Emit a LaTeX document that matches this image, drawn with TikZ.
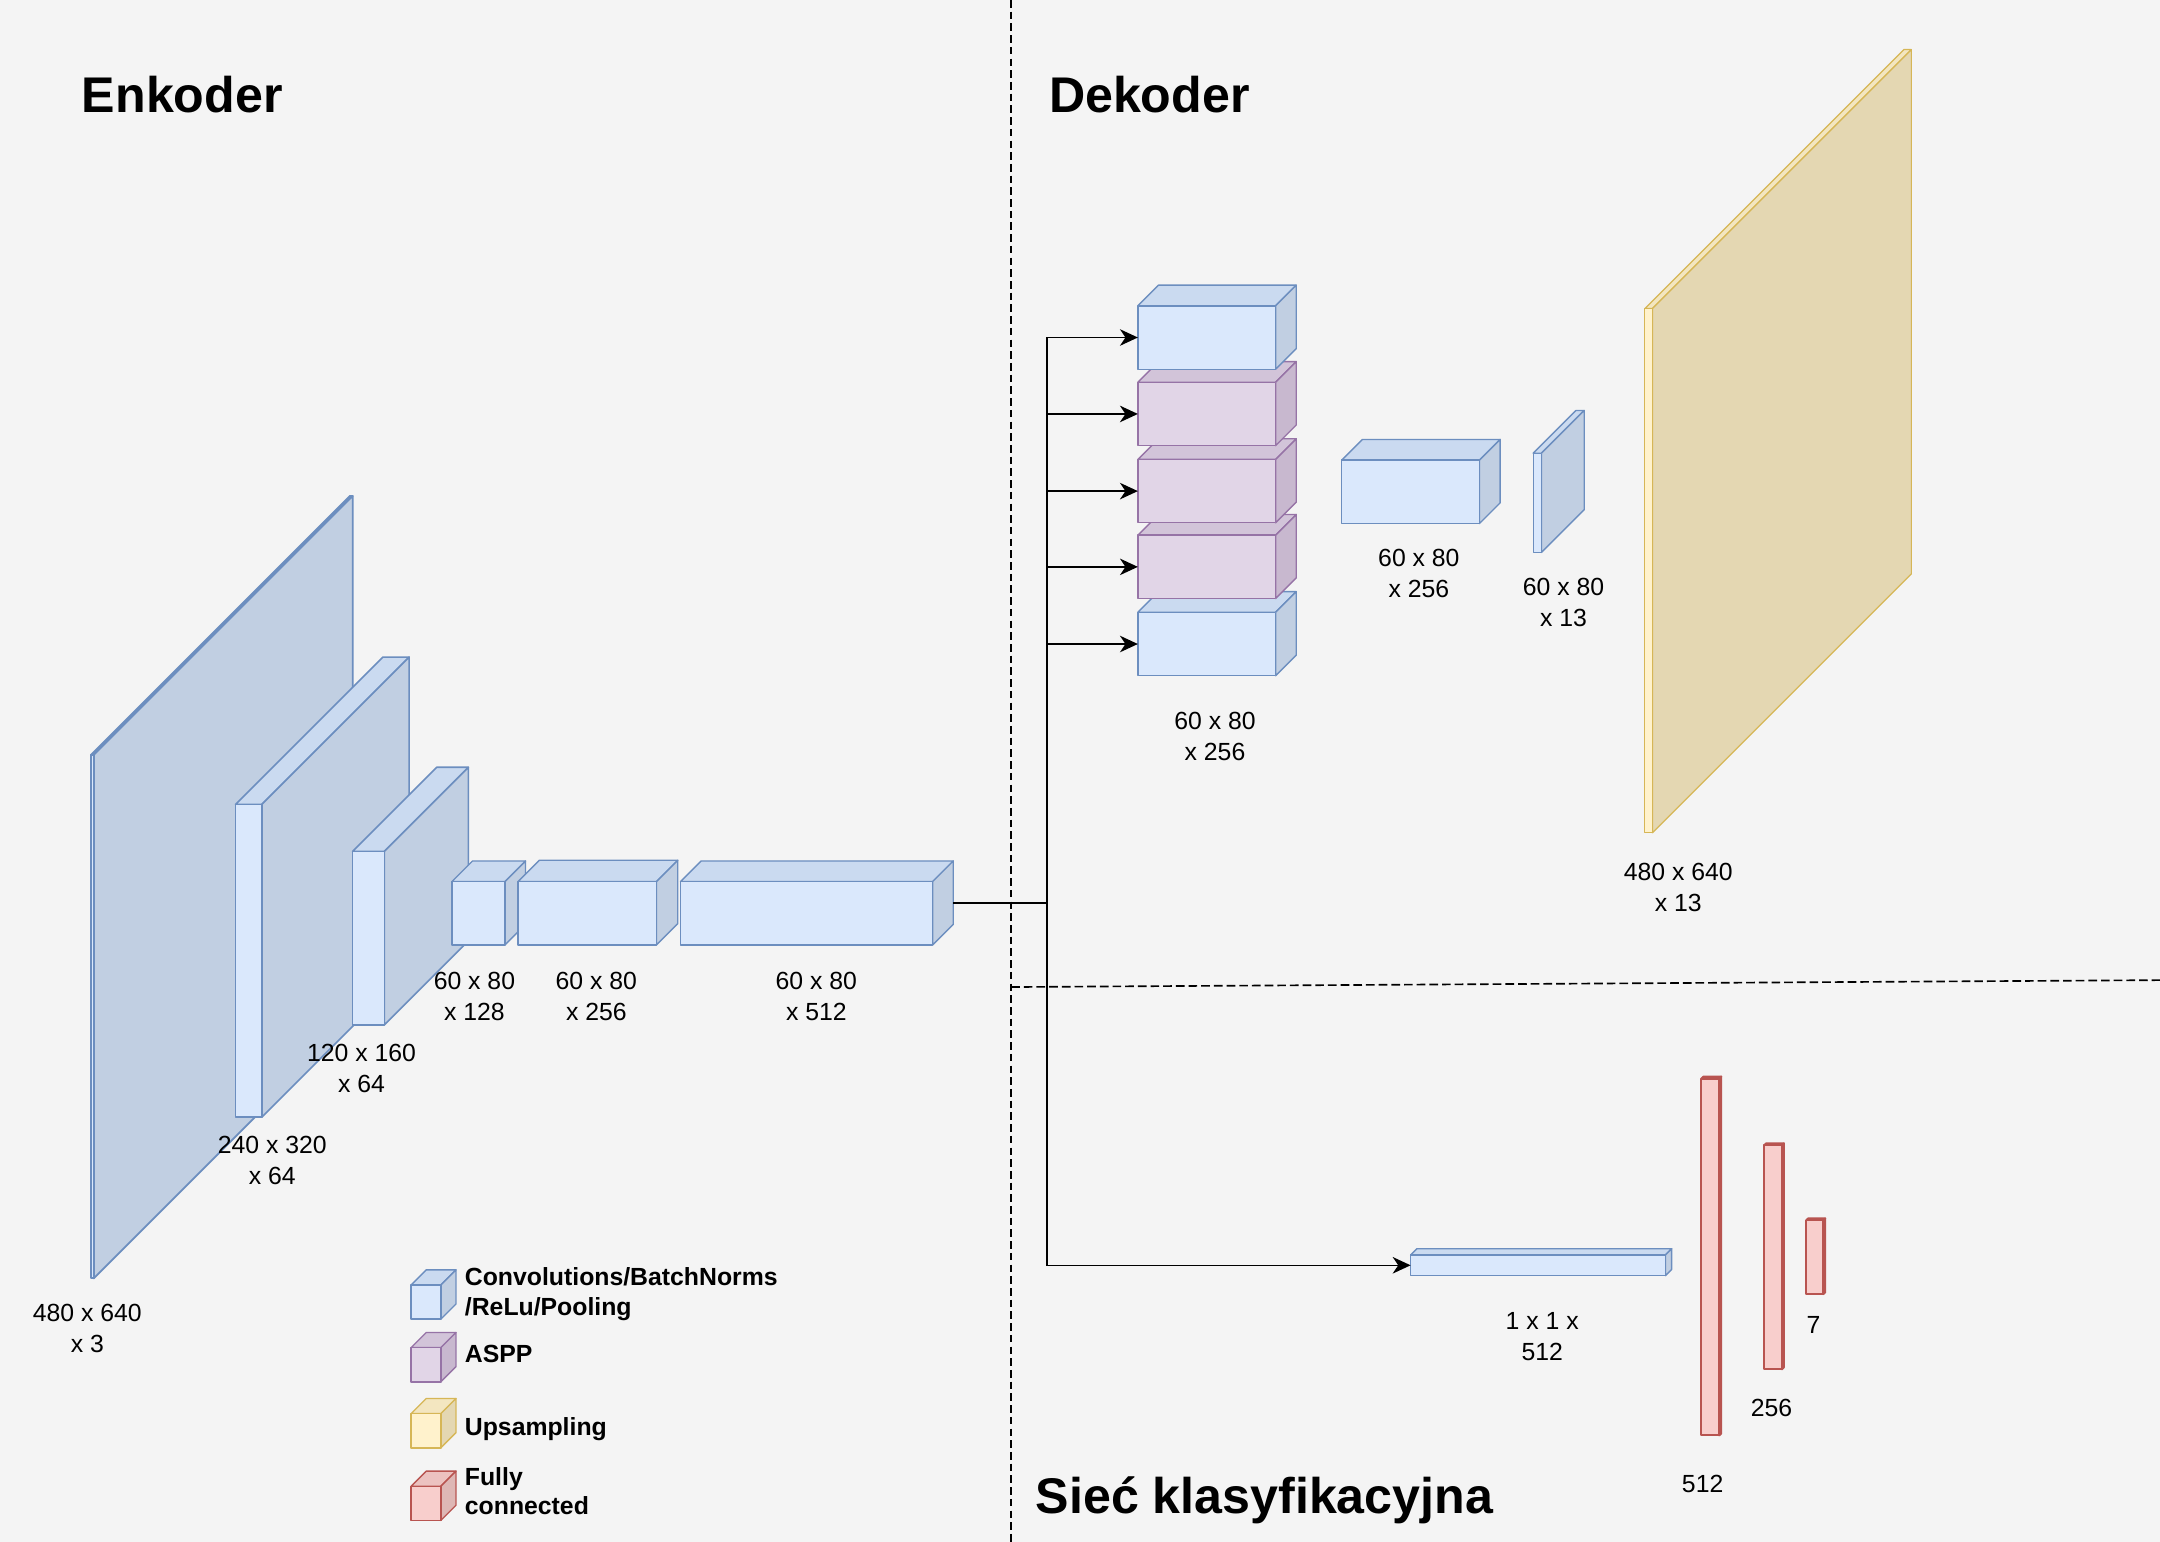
\documentclass[tikz,border=0pt]{standalone}
\usepackage{fontspec}
\setmainfont{Liberation Sans}
\usetikzlibrary{arrows.meta,calc}
\definecolor{bg}{HTML}{F4F4F4}
\definecolor{bF}{HTML}{DAE8FC}\definecolor{bT}{HTML}{CADAF0}\definecolor{bS}{HTML}{C1CFE2}\definecolor{bD}{HTML}{6C8EBF}
\definecolor{pF}{HTML}{E1D5E7}\definecolor{pT}{HTML}{D2C4D9}\definecolor{pS}{HTML}{C8B8CF}\definecolor{pD}{HTML}{9673A6}
\definecolor{yF}{HTML}{FFF2CC}\definecolor{yT}{HTML}{F3E6C0}\definecolor{yS}{HTML}{E4D7B2}\definecolor{yD}{HTML}{D6B656}
\definecolor{rF}{HTML}{F8CECC}\definecolor{rT}{HTML}{ECC2C0}\definecolor{rS}{HTML}{DEB7B5}\definecolor{rD}{HTML}{B85450}
% #1 style, #2 name, #3 x, #4 y (front top-left), #5 w, #6 h, #7 depth, #8 colour scheme
\newcommand\cubebox[8][]{%
  \node[inner sep=0pt,outer sep=0pt,minimum width=#5pt,minimum height=#6pt,anchor=north west] (#2) at (#3,#4) {};
  \filldraw[cubeline,#1,fill=#8T,draw=#8D] (#2.north west) -- ++(#7,-#7) -- ++(#5,0) -- (#2.north east) -- cycle;
  \filldraw[cubeline,#1,fill=#8S,draw=#8D] (#2.north east) -- ++(#7,-#7) -- ++(0,#6) -- (#2.south east) -- cycle;
  \filldraw[cubeline,#1,fill=#8F,draw=#8D] (#2.north west) rectangle (#2.south east);
}
\begin{document}
\begin{tikzpicture}[x=1pt,y=-1pt,
  cubeline/.style={line width=1pt,line join=round},
  lbl/.style={font=\fontsize{18}{22.5}\selectfont,align=center,inner sep=0pt,outer sep=0pt},
  legtxt/.style={font=\fontsize{18}{21.6}\selectfont\bfseries,align=left,inner sep=0pt,outer sep=0pt,anchor=base west},
  title/.style={font=\fontsize{36.4}{43}\selectfont\bfseries,inner sep=0pt,outer sep=0pt,anchor=base west},
  conn/.style={line width=1.3pt,-{Stealth[length=13pt,width=12pt,inset=4pt]}},
  sep/.style={line width=1.2pt,dash pattern=on 5.5pt off 3pt}]
\useasboundingbox (0,0) rectangle (1568,1119);
\fill[bg] (0,0) rectangle (1568,1119);
% separators
\draw[sep] (734,0) -- (734,1119);
\draw[sep,dash pattern=on 6.3pt off 2.9pt] (734,716.5) -- (1568,711.5);
% titles
\node[title] (tenc) at (59.5,82) {Enkoder};
\node[title] (tdec) at (761.5,82) {Dekoder};
\node[title] (tcls) at (752,1098.5) {Sieć klasyfikacyjna};
% encoder
\cubebox[line width=1.3pt]{in480}{66}{548}{2}{380}{188}{b}
\cubebox[line width=1.2pt]{s240}{171}{584}{19}{227}{107}{b}
\cubebox[line width=1.2pt]{s120}{256}{618}{23}{126}{61}{b}
\cubebox{e128}{328}{640}{38.5}{46}{15}{b}
\cubebox{e256}{376}{640}{100.5}{46}{15.5}{b}
\cubebox{e512}{494}{640}{183}{46}{15}{b}
\node[lbl] (l480) at (63.4,964) {480 x 640\\x 3};
\node[lbl] (l240) at (197.7,842.3) {240 x 320\\x 64};
\node[lbl] (l120) at (262.5,775.5) {120 x 160\\x 64};
\node[lbl] (l128) at (344.4,723.3) {60 x 80\\x 128};
\node[lbl] (l256) at (432.9,723.3) {60 x 80\\x 256};
\node[lbl] (l512) at (592.6,723.3) {60 x 80\\x 512};
% decoder
\cubebox{d5}{826}{444.5}{100}{46}{15}{b}
\cubebox{d4}{826}{388.5}{100}{46}{15}{p}
\cubebox{d3}{826}{333.5}{100}{46}{15}{p}
\cubebox{d2}{826}{277.5}{100}{46}{15}{p}
\cubebox{d1}{826}{222}{100}{46}{15}{b}
\cubebox{dc}{974}{334}{100}{46}{15}{b}
\cubebox{d13}{1113}{329}{6}{72}{31}{b}
\cubebox[line width=0.9pt]{up}{1194}{224}{5.5}{380.5}{188}{y}
\node[lbl] (ld1) at (882,534.3) {60 x 80\\x 256};
\node[lbl] (ld2) at (1030,416.5) {60 x 80\\x 256};
\node[lbl] (ld3) at (1135,437) {60 x 80\\x 13};
\node[lbl] (lup) at (1218.3,644) {480 x 640\\x 13};
% classification
\cubebox{fc}{1024}{911}{185}{15}{4.5}{b}
\cubebox[line width=1.4pt]{r1}{1235}{783}{13}{259}{1.5}{r}
\cubebox[line width=1.4pt]{r2}{1280.5}{831.5}{13}{162.5}{1.5}{r}
\cubebox[line width=1.4pt]{r3}{1311}{886}{12.5}{53.5}{1.5}{r}
\node[lbl] (lfc) at (1119.5,970.2) {1 x 1 x\\512};
\node[lbl] (lr1) at (1236,1077.4) {512};
\node[lbl] (lr2) at (1286,1021.7) {256};
\node[lbl] (lr3) at (1316.5,961.7) {7};
% connectors
\coordinate (encout) at ($(e512.east)+(15,-7.5)$);
\coordinate (trunk) at ($(encout)+(68,0)$);
\foreach \n in {d1,d2,d3,d4,d5}{\draw[conn] (encout) -- (trunk) |- (\n.west);}
\draw[conn,line width=1.1pt] (encout) -- (trunk) |- (fc.west);
% legend
\cubebox{kb}{298.4}{932.8}{21.6}{24.8}{11}{b}
\cubebox{kp}{298.4}{978.3}{21.6}{24.8}{11}{p}
\cubebox{ky}{298.4}{1026.2}{21.6}{24.8}{11}{y}
\cubebox{kr}{298.4}{1078.9}{21.6}{24.8}{11}{r}
\node[legtxt] (tb) at (337.5,954.6) {Convolutions/BatchNorms\\/ReLu/Pooling};
\node[legtxt] (tp) at (337.5,989) {ASPP};
\node[legtxt] (ty) at (337.5,1042.4) {Upsampling};
\node[legtxt] (tr) at (337.5,1099.7) {Fully\\connected};
\end{tikzpicture}
\end{document}
